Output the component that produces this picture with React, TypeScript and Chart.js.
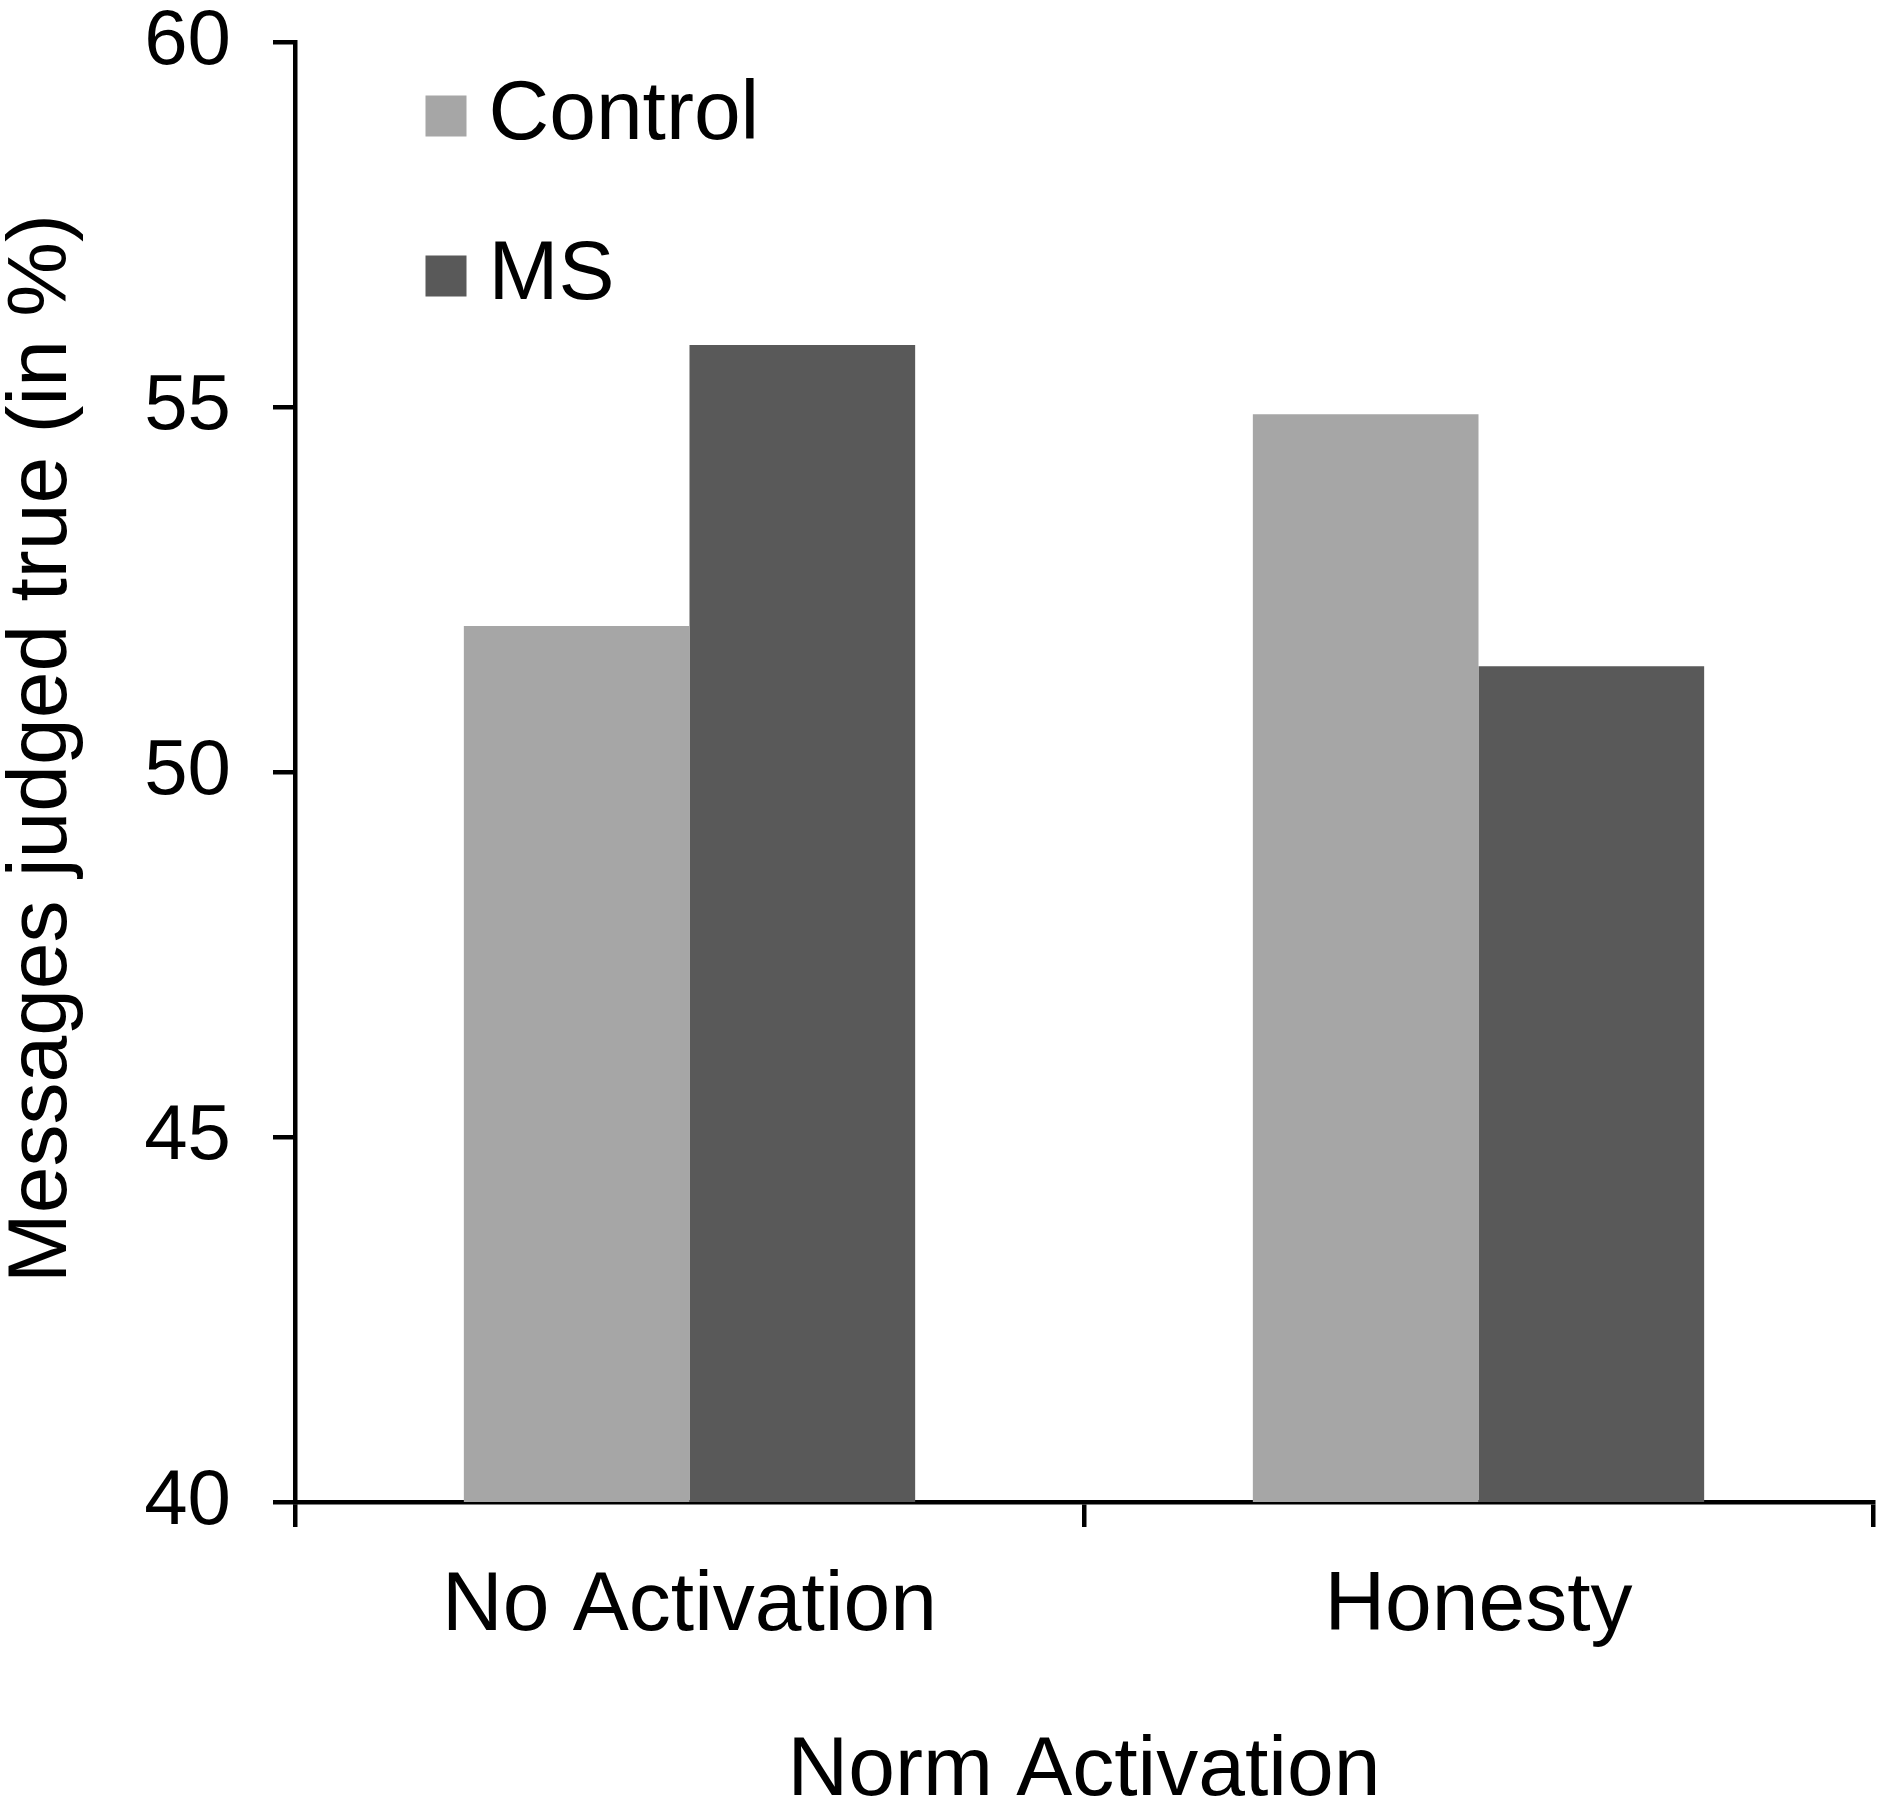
import { useEffect, useRef } from 'react';
import { Chart, registerables } from 'chart.js';

Chart.register(...registerables);

const categories = ['No Activation', 'Honesty'];
const seriesLabels = ['Control', 'MS'];
const controlValues = [52.0, 54.9];
const msValues = [55.85, 51.45];
const seriesColors = ['#a6a6a6', '#595959'];
const yTicks = [40, 45, 50, 55, 60];

const FONT = "'Liberation Sans', Arial, Helvetica, sans-serif";

// The original figure has its legend inside the plot, top-left
const legendPlacer = {
  id: 'legendPlacer',
  beforeDraw(chart: any) {
    const legend = chart.legend;
    if (!legend) return;
    const { left, top } = chart.chartArea;
    legend.left = left + 74.5;
    legend.top = top - 44;
  },
};

export default function App() {
  const canvasRef = useRef<HTMLCanvasElement>(null);
  const chartRef = useRef<Chart | null>(null);

  useEffect(() => {
    document.body.style.margin = '0';
    if (!canvasRef.current) return;

    if (chartRef.current) {
      chartRef.current.destroy();
      chartRef.current = null;
    }

    chartRef.current = new Chart(canvasRef.current, {
      type: 'bar',
      data: {
        labels: categories,
        datasets: [
          {
            label: seriesLabels[0],
            data: controlValues,
            backgroundColor: seriesColors[0],
            borderWidth: 0,
            categoryPercentage: 0.572,
            barPercentage: 1,
          },
          {
            label: seriesLabels[1],
            data: msValues,
            backgroundColor: seriesColors[1],
            borderWidth: 0,
            categoryPercentage: 0.572,
            barPercentage: 1,
          },
        ],
      },
      plugins: [legendPlacer],
      options: {
        animation: false,
        responsive: true,
        maintainAspectRatio: false,
        devicePixelRatio: 1,
        layout: { padding: { top: 42, right: 17, bottom: 0, left: 0 } },
        plugins: {
          tooltip: { enabled: false },
          legend: {
            display: true,
            position: 'chartArea',
            align: 'start',
            labels: {
              color: '#000',
              font: { family: FONT, size: 84, lineHeight: 1 },
              usePointStyle: true,
              pointStyle: 'rect',
              boxWidth: 1,
              boxHeight: 41,
              padding: 76,
            },
          },
        },
        scales: {
          x: {
            type: 'category',
            offset: true,
            afterFit: (scale: any) => {
              scale.height = 311;
            },
            grid: {
              display: true,
              offset: true,
              drawOnChartArea: false,
              drawTicks: true,
              tickLength: 25,
              color: '#000',
              lineWidth: 4.5,
              tickWidth: 4.5,
            },
            border: { display: true, color: '#000', width: 4.5 },
            ticks: {
              color: '#000',
              padding: 38,
              maxRotation: 0,
              font: { family: FONT, size: 84, lineHeight: 1 },
            },
            title: {
              display: true,
              text: 'Norm Activation',
              color: '#000',
              font: { family: FONT, size: 84, lineHeight: 0.95 },
              padding: { top: 0, bottom: 1 },
            },
          },
          y: {
            type: 'linear',
            min: 40,
            max: 60,
            afterFit: (scale: any) => {
              scale.width = 295;
              scale.paddingTop = 0;
              scale.paddingBottom = 0;
            },
            afterBuildTicks: (scale: any) => {
              scale.ticks = yTicks.map((v) => ({ value: v }));
            },
            grid: {
              display: true,
              drawOnChartArea: false,
              drawTicks: true,
              tickLength: 22,
              color: '#000',
              lineWidth: 4.5,
              tickWidth: 4.5,
            },
            border: { display: true, color: '#000', width: 4.5 },
            ticks: {
              color: '#000',
              padding: 42,
              font: { family: FONT, size: 78, lineHeight: 1 },
            },
            title: {
              display: true,
              // leading spaces nudge the rotated title up, as in the original
              text: '  Messages judged true (in %)',
              color: '#000',
              font: { family: FONT, size: 84, lineHeight: 1 },
              padding: { top: 1, bottom: 0 },
            },
          },
        },
      },
    });

    return () => {
      if (chartRef.current) {
        chartRef.current.destroy();
        chartRef.current = null;
      }
    };
  }, []);

  return (
    <div style={{ width: 1890, height: 1813, position: 'relative', background: '#fff' }}>
      <canvas ref={canvasRef} aria-label="Messages judged true by norm activation" />
    </div>
  );
}
